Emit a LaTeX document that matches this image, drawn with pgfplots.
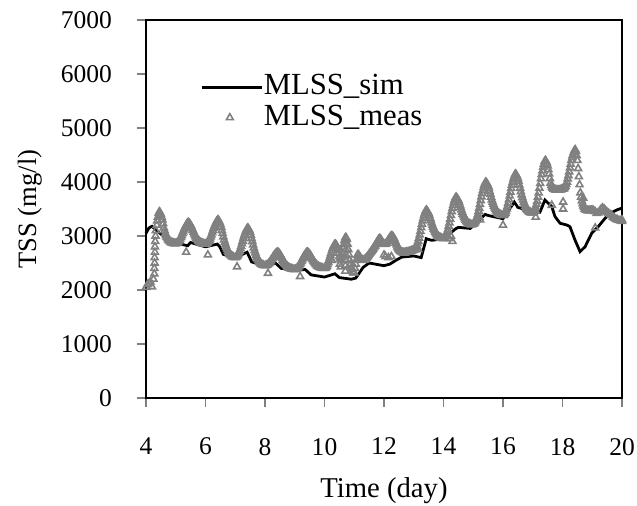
\documentclass[border=0pt]{standalone}
\usepackage{fontspec}
\setmainfont{Liberation Serif}
\usepackage{pgfplots}
\pgfplotsset{compat=1.18}
\definecolor{measgray}{RGB}{128,128,128}
\pgfplotsset{
  simlegend/.style={legend image code/.code={\draw[##1] (0bp,0bp) -- (30bp,0bp);}},
  measlegend/.style={legend image code/.code={\draw[##1] plot coordinates {(14bp,0bp)};}},
}
\begin{document}
\begin{tikzpicture}
\begin{axis}[
  scale only axis,
  width=238bp, height=189bp,
  xmin=4, xmax=20, ymin=0, ymax=7000,
  xtick={4,6,...,20}, ytick={0,1000,...,7000},
  tick align=outside, xtick pos=left, ytick pos=left,
  major tick length=4.5bp,
  tick style={measgray, line width=0.6pt},
  axis line style={line width=1pt},
  /pgf/number format/assume math mode=true,
  /pgf/number format/set thousands separator={},
  ticklabel style={font=\fontsize{12.8}{15}\selectfont},
  xticklabel style={yshift=-12bp},
  yticklabel style={xshift=-9bp},
  xlabel={Time (day)}, ylabel={TSS (mg/l)},
  xlabel style={font=\fontsize{14.4}{17}\selectfont, at={(axis description cs:0.5,-0.245)}, anchor=center},
  ylabel style={font=\fontsize{13.3}{16}\selectfont, at={(axis description cs:-0.244,0.5)}, anchor=center},
  legend style={draw=none, fill=none, at={(axis description cs:0.101,0.873)}, anchor=north west,
    font=\fontsize{15.4}{18}\selectfont,
    nodes={inner sep=0.3bp, text height=11bp, text depth=3.5bp}},
  legend cell align=left,
  clip=false,
]
\addplot[black, line width=1.4pt, simlegend] coordinates {
(4.00,3050) (4.10,3150) (4.20,3180) (4.40,3080) (4.70,2950) (5.00,2870) (5.40,2820) (5.50,2880)
(5.80,2830) (6.00,2800) (6.40,2850) (6.48,2800) (6.60,2660) (7.00,2600) (7.40,2700) (7.55,2520)
(8.00,2450) (8.35,2500) (8.55,2400) (9.00,2360) (9.35,2380) (9.55,2280) (10.00,2240) (10.35,2300)
(10.50,2230) (10.90,2200) (11.05,2220) (11.30,2420) (11.50,2500) (12.00,2450) (12.20,2480) (12.40,2550)
(12.60,2610) (13.00,2630) (13.25,2600) (13.42,2950) (13.60,2920) (14.00,2950) (14.40,3130) (14.50,3160)
(14.90,3140) (15.40,3400) (15.50,3380) (16.00,3320) (16.38,3630) (16.50,3530) (17.00,3450) (17.24,3440)
(17.41,3667) (17.64,3543) (17.75,3358) (17.92,3235) (18.14,3204) (18.25,3173) (18.42,2926) (18.59,2710)
(18.76,2802) (18.98,3050) (19.20,3173) (19.43,3327) (19.60,3420) (19.82,3481) (20.00,3518)
};
\addlegendentry{MLSS\_sim}
\addplot[only marks, mark=triangle, mark size=2pt, measgray, mark options={line width=0.8pt}, measlegend] coordinates {
(4.00,2050) (4.05,2100) (4.10,2120) (4.15,2150) (4.20,2060) (4.25,2200) (4.28,2300) (4.28,2400) (4.29,2500)
(4.29,2600) (4.30,2700) (4.30,2800) (4.31,2900) (4.32,3000) (4.33,3100) (4.36,3200) (4.40,3350) (4.45,3450)
(4.50,3400) (4.55,3300) (4.60,3150) (4.65,3050) (4.70,2980) (4.75,2930) (4.80,2900) (4.85,2880) (4.90,2870) (4.95,2860)
(4.375,3280) (4.425,3420) (4.475,3430) (4.525,3350) (4.575,3230) (4.625,3100) (4.675,3010) (4.725,2955) (4.775,2915)
(4.825,2890) (4.875,2875) (4.925,2865) (4.975,2860)
(5.00,2860) (5.05,2872) (5.10,2899) (5.15,2946) (5.20,3008) (5.25,3078) (5.30,3145) (5.35,3199) (5.40,3242) (5.45,3238)
(5.50,3202) (5.55,3138) (5.60,3070) (5.65,3010) (5.70,2962) (5.75,2922) (5.80,2894) (5.85,2874) (5.90,2862) (5.95,2854)
(5.025,2864) (5.075,2883) (5.125,2922) (5.175,2977) (5.225,3043) (5.275,3114) (5.325,3172) (5.375,3223) (5.425,3250)
(5.475,3222) (5.525,3174) (5.575,3106) (5.625,3038) (5.675,2986) (5.725,2942) (5.775,2906) (5.825,2882) (5.875,2868) (5.925,2858)
(5.35,2700)
(6.00,2850) (6.05,2864) (6.10,2895) (6.15,2949) (6.20,3021) (6.25,3102) (6.30,3179) (6.35,3242) (6.40,3291) (6.45,3279)
(6.50,3216) (6.55,3104) (6.60,2985) (6.65,2880) (6.70,2796) (6.75,2726) (6.80,2677) (6.85,2642) (6.90,2621) (6.95,2607)
(6.025,2855) (6.075,2877) (6.125,2922) (6.175,2985) (6.225,3062) (6.275,3143) (6.325,3210) (6.375,3269) (6.425,3300)
(6.475,3251) (6.525,3167) (6.575,3048) (6.625,2929) (6.675,2838) (6.725,2761) (6.775,2698) (6.825,2656) (6.875,2632) (6.925,2614)
(6.08,2650)
(7.00,2600) (7.05,2617) (7.10,2655) (7.15,2721) (7.20,2809) (7.25,2908) (7.30,3002) (7.35,3079) (7.40,3139) (7.45,3129)
(7.50,3066) (7.55,2954) (7.60,2835) (7.65,2730) (7.70,2646) (7.75,2576) (7.80,2527) (7.85,2492) (7.90,2471) (7.95,2457)
(7.025,2606) (7.075,2633) (7.125,2688) (7.175,2765) (7.225,2859) (7.275,2958) (7.325,3040) (7.375,3112) (7.425,3150)
(7.475,3101) (7.525,3017) (7.575,2898) (7.625,2779) (7.675,2688) (7.725,2611) (7.775,2548) (7.825,2506) (7.875,2482) (7.925,2464)
(7.06,2430)
(8.00,2450) (8.05,2458) (8.10,2475) (8.15,2505) (8.20,2545) (8.25,2590) (8.30,2633) (8.35,2668) (8.40,2695) (8.45,2690)
(8.50,2662) (8.55,2610) (8.60,2556) (8.65,2508) (8.70,2470) (8.75,2438) (8.80,2415) (8.85,2399) (8.90,2390) (8.95,2383)
(8.025,2453) (8.075,2465) (8.125,2490) (8.175,2525) (8.225,2568) (8.275,2613) (8.325,2650) (8.375,2683) (8.425,2700)
(8.475,2678) (8.525,2639) (8.575,2585) (8.625,2530) (8.675,2489) (8.725,2454) (8.775,2425) (8.825,2406) (8.875,2394) (8.925,2386)
(8.10,2310)
(9.00,2380) (9.05,2390) (9.10,2412) (9.15,2450) (9.20,2502) (9.25,2559) (9.30,2614) (9.35,2658) (9.40,2694) (9.45,2691)
(9.50,2664) (9.55,2616) (9.60,2565) (9.65,2520) (9.70,2484) (9.75,2454) (9.80,2433) (9.85,2418) (9.90,2409) (9.95,2403)
(9.025,2383) (9.075,2399) (9.125,2431) (9.175,2476) (9.225,2530) (9.275,2588) (9.325,2636) (9.375,2678) (9.425,2700)
(9.475,2679) (9.525,2643) (9.575,2592) (9.625,2541) (9.675,2502) (9.725,2469) (9.775,2442) (9.825,2424) (9.875,2414) (9.925,2406)
(9.18,2250)
(10.00,2400) (10.05,2420) (10.10,2470) (10.15,2550) (10.20,2640) (10.25,2730) (10.30,2800) (10.35,2850) (10.40,2830) (10.45,2740)
(10.50,2620) (10.55,2560) (10.60,2680) (10.65,2850) (10.70,2970) (10.75,2940) (10.80,2750) (10.85,2550) (10.90,2420) (10.95,2340)
(10.025,2405) (10.075,2440) (10.125,2510) (10.175,2595) (10.225,2685) (10.275,2770) (10.325,2830) (10.375,2845) (10.425,2790)
(10.475,2680) (10.525,2580) (10.575,2610) (10.625,2760) (10.675,2920) (10.725,2970) (10.775,2850) (10.825,2650) (10.875,2480)
(10.925,2380) (10.975,2320)
(10.52,2480) (10.55,2430) (10.25,2550) (10.70,2350) (10.70,2450) (10.71,2550) (10.71,2650) (10.72,2750) (10.72,2850)
(11.00,2320) (11.05,2480) (11.10,2640) (11.15,2650) (11.20,2600) (11.25,2560) (11.30,2550) (11.35,2560) (11.40,2590) (11.45,2620)
(11.50,2660) (11.55,2700) (11.60,2740) (11.65,2780) (11.70,2820) (11.75,2870) (11.80,2920) (11.85,2950) (11.90,2930) (11.95,2880)
(11.025,2400) (11.075,2560) (11.125,2660) (11.175,2625) (11.225,2580) (11.275,2555) (11.325,2555) (11.375,2575) (11.425,2605)
(11.475,2640) (11.525,2680) (11.575,2720) (11.625,2760) (11.675,2800) (11.725,2845) (11.775,2895) (11.825,2940) (11.875,2945)
(11.925,2905) (11.975,2860)
(12.00,2850) (12.05,2850) (12.10,2880) (12.15,2930) (12.20,2970) (12.25,3000) (12.30,2990) (12.35,2940) (12.40,2870) (12.45,2800)
(12.50,2750) (12.55,2720) (12.60,2700) (12.65,2690) (12.70,2690) (12.75,2700) (12.80,2700) (12.85,2710) (12.90,2720) (12.95,2730)
(12.025,2845) (12.075,2860) (12.125,2905) (12.175,2950) (12.225,2990) (12.275,3000) (12.325,2970) (12.375,2905) (12.425,2835)
(12.475,2775) (12.525,2735) (12.575,2710) (12.625,2695) (12.675,2690) (12.725,2695) (12.775,2700) (12.825,2705) (12.875,2715)
(12.925,2725) (12.975,2735)
(12.00,2650) (12.05,2620) (12.15,2600) (12.25,2620)
(13.00,2740) (13.05,2762) (13.10,2814) (13.15,2903) (13.20,3021) (13.25,3154) (13.30,3280) (13.35,3384) (13.40,3465) (13.45,3464)
(13.50,3416) (13.55,3332) (13.60,3242) (13.65,3162) (13.70,3098) (13.75,3045) (13.80,3008) (13.85,2982) (13.90,2966) (13.95,2955)
(13.025,2747) (13.075,2784) (13.125,2858) (13.175,2962) (13.225,3088) (13.275,3221) (13.325,3332) (13.375,3428) (13.425,3480)
(13.475,3443) (13.525,3379) (13.575,3289) (13.625,3199) (13.675,3130) (13.725,3072) (13.775,3024) (13.825,2992) (13.875,2974) (13.925,2961)
(13.10,2800) (13.15,2750)
(14.00,2950) (14.05,2973) (14.10,3027) (14.15,3119) (14.20,3243) (14.25,3381) (14.30,3512) (14.35,3620) (14.40,3705) (14.45,3704)
(14.50,3658) (14.55,3574) (14.60,3486) (14.65,3408) (14.70,3346) (14.75,3294) (14.80,3257) (14.85,3231) (14.90,3216) (14.95,3205)
(14.025,2958) (14.075,2996) (14.125,3073) (14.175,3181) (14.225,3312) (14.275,3451) (14.325,3566) (14.375,3666) (14.425,3720)
(14.475,3684) (14.525,3621) (14.575,3533) (14.625,3444) (14.675,3377) (14.725,3320) (14.775,3273) (14.825,3242) (14.875,3223) (14.925,3210)
(14.20,2950) (14.25,3000) (14.30,2900)
(15.00,3220) (15.05,3243) (15.10,3298) (15.15,3392) (15.20,3516) (15.25,3657) (15.30,3789) (15.35,3899) (15.40,3984) (15.45,3981)
(15.50,3926) (15.55,3826) (15.60,3721) (15.65,3628) (15.70,3554) (15.75,3492) (15.80,3448) (15.85,3417) (15.90,3399) (15.95,3386)
(15.025,3228) (15.075,3267) (15.125,3345) (15.175,3454) (15.225,3587) (15.275,3727) (15.325,3844) (15.375,3945) (15.425,4000)
(15.475,3957) (15.525,3882) (15.575,3777) (15.625,3671) (15.675,3591) (15.725,3523) (15.775,3467) (15.825,3430) (15.875,3408) (15.925,3392)
(15.20,3350) (15.20,3450) (15.23,3300)
(16.00,3380) (16.05,3403) (16.10,3457) (16.15,3549) (16.20,3673) (16.25,3811) (16.30,3942) (16.35,4050) (16.40,4135) (16.45,4128)
(16.50,4062) (16.55,3946) (16.60,3822) (16.65,3712) (16.70,3624) (16.75,3551) (16.80,3500) (16.85,3464) (16.90,3442) (16.95,3427)
(16.025,3388) (16.075,3426) (16.125,3503) (16.175,3611) (16.225,3742) (16.275,3881) (16.325,3996) (16.375,4096) (16.425,4150)
(16.475,4099) (16.525,4011) (16.575,3887) (16.625,3763) (16.675,3668) (16.725,3588) (16.775,3522) (16.825,3478) (16.875,3453) (16.925,3435)
(16.00,3200)
(17.00,3430) (17.05,3459) (17.10,3527) (17.15,3643) (17.20,3799) (17.25,3973) (17.30,4138) (17.35,4274) (17.40,4381) (17.45,4380)
(17.50,4300) (17.55,4150) (17.60,3980) (17.65,3900) (17.70,3870) (17.75,3860) (17.80,3850) (17.85,3850) (17.90,3850) (17.95,3860)
(17.025,3440) (17.075,3488) (17.125,3585) (17.175,3721) (17.225,3886) (17.275,4061) (17.325,4206) (17.375,4332) (17.425,4400)
(17.475,4345) (17.525,4230) (17.575,4065) (17.625,3935) (17.675,3885) (17.725,3865) (17.775,3855) (17.825,3850) (17.875,3850)
(17.925,3855) (17.975,3865)
(17.08,3480) (17.10,3350) (17.64,3570)
(18.00,3870) (18.05,3880) (18.10,3920) (18.15,4000) (18.20,4120) (18.25,4260) (18.30,4400) (18.35,4500) (18.40,4580) (18.45,4570)
(18.50,4400) (18.55,4100) (18.60,3800) (18.65,3650) (18.70,3560) (18.75,3500) (18.80,3480) (18.85,3470) (18.90,3470) (18.95,3470)
(18.025,3875) (18.075,3900) (18.125,3955) (18.175,4060) (18.225,4190) (18.275,4330) (18.325,4450) (18.375,4545) (18.425,4600)
(18.475,4490) (18.525,4250) (18.575,3950) (18.625,3720) (18.675,3600) (18.725,3530) (18.775,3490) (18.825,3475) (18.875,3470)
(18.925,3470) (18.975,3475)
(18.02,3630) (18.02,3500) (18.70,3700)
(19.00,3480) (19.05,3470) (19.10,3450) (19.15,3420) (19.20,3430) (19.25,3460) (19.30,3500) (19.35,3520) (19.40,3500) (19.45,3470)
(19.50,3440) (19.55,3420) (19.60,3400) (19.65,3380) (19.70,3350) (19.75,3330) (19.80,3310) (19.85,3300) (19.90,3290) (19.95,3280)
(20.00,3270) (19.10,3150) (20.00,3300)
};
\addlegendentry{MLSS\_meas}
\coordinate (ll) at (rel axis cs:0,0);
\coordinate (ur) at (rel axis cs:1,1);
\end{axis}
\pgfresetboundingbox
\path ([xshift=-73bp,yshift=-54bp]ll) rectangle ([xshift=7.5bp,yshift=10bp]ur);
\end{tikzpicture}
\end{document}
